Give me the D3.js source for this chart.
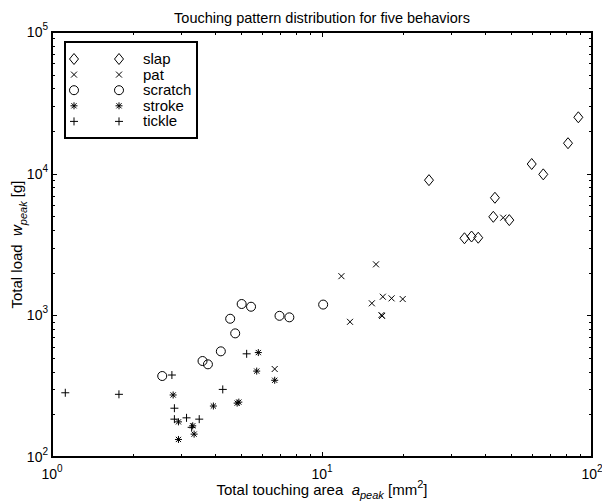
<!DOCTYPE html>
<meta charset="utf-8">
<style>
  body { margin: 0; background: #fff; }
  text { font-family: 'Liberation Sans', Arial, sans-serif; fill: #000; }
  .tick line { stroke: #000; stroke-width: 1; }
  .domain { display: none; }
  .mk { fill: none; stroke: #000; stroke-width: 1; }
</style>
<body>
<script src="https://cdn.jsdelivr.net/npm/d3@7/dist/d3.min.js"></script>
<script>

// values: touching area [mm^2] and total load [g]
var slapArea = [24.9, 33.7, 35.8, 37.9, 43.1, 43.7, 49.4, 59.8, 66.0, 81.5, 89.0];
var slapLoad = [9000, 3500, 3600, 3530, 4960, 6760, 4700, 11700, 9890, 16400, 25000];

var patArea = [6.68, 11.8, 12.7, 15.3, 15.85, 16.6, 16.7, 16.8, 18.1, 19.9, 46.9];
var patLoad = [418, 1890, 900, 1216, 2290, 1005, 990, 1353, 1318, 1303, 4890];

var scratchArea = [2.56, 3.61, 3.78, 4.22, 4.57, 4.77, 5.04, 5.46, 6.96, 7.57, 10.1];
var scratchLoad = [373, 476, 451, 557, 946, 746, 1202, 1150, 992, 968, 1191];

var strokeArea = [2.81, 2.94, 2.94, 3.32, 3.36, 3.96, 4.85, 4.92, 5.73, 5.81, 6.68];
var strokeLoad = [274, 177, 133, 166, 145, 229, 240, 244, 404, 546, 348];

var tickleArea = [1.12, 1.77, 2.78, 2.84, 2.84, 3.15, 3.29, 3.51, 4.29, 5.26];
var tickleLoad = [284, 277, 379, 221, 185, 189, 162, 185, 300, 535];

var seriesNames = ["slap", "pat", "scratch", "stroke", "tickle"];
var seriesMarkers = ["diamond", "x", "circle", "star", "plus"];

var xTicks = [1, 10, 100], xTickExp = ["0", "1", "2"];
var yTicks = [1e2, 1e3, 1e4, 1e5], yTickExp = ["2", "3", "4", "5"];

var margin = {top: 32, right: 10, bottom: 45, left: 52},
    width = 602 - margin.left - margin.right,
    height = 502 - margin.top - margin.bottom;

var x = d3.scaleLog().domain([1, 100]).range([0, width]);
var y = d3.scaleLog().domain([1e2, 1e5]).range([height, 0]);

var svg = d3.select("body").append("svg")
    .attr("width", 602)
    .attr("height", 502)
  .append("g")
    .attr("transform", "translate(" + margin.left + "," + margin.top + ")");

// minor ticks 2..9 in every decade
function minors(dom) {
  var out = [];
  for (var d = dom[0]; d < dom[1]; d *= 10)
    for (var k = 2; k <= 9; k++) out.push(d * k);
  return out;
}
var xMinor = minors(x.domain()), yMinor = minors(y.domain());

function ticks(axis, vals, len) {
  return axis.tickValues(vals).tickSize(-len).tickFormat("");
}

[[5, xTicks, yTicks], [3, xMinor, yMinor]].forEach(function(t) {
  svg.append("g").attr("transform", "translate(0," + height + ")")
      .call(ticks(d3.axisBottom(x), t[1], t[0]));
  svg.append("g").call(ticks(d3.axisTop(x), t[1], t[0]));
  svg.append("g").call(ticks(d3.axisLeft(y), t[2], t[0]));
  svg.append("g").attr("transform", "translate(" + width + ",0)")
      .call(ticks(d3.axisRight(y), t[2], t[0]));
});
svg.selectAll(".tick line").attr("shape-rendering", "crispEdges");

svg.append("rect")
    .attr("width", width).attr("height", height)
    .attr("fill", "none").attr("stroke", "#000").attr("stroke-width", 1.2)
    .attr("shape-rendering", "crispEdges");

// tick labels 10^n
xTicks.forEach(function(v, i) {
  var t = svg.append("text")
      .attr("x", x(v)).attr("y", height + 22)
      .attr("text-anchor", "middle").attr("font-size", "14px");
  t.append("tspan").text("10");
  t.append("tspan").attr("dy", -7).attr("font-size", "10px").text(xTickExp[i]);
});
yTicks.forEach(function(v, i) {
  var t = svg.append("text")
      .attr("x", -4).attr("y", y(v) + 5)
      .attr("text-anchor", "end").attr("font-size", "14px");
  t.append("tspan").text("10");
  t.append("tspan").attr("dy", -7).attr("font-size", "10px").text(yTickExp[i]);
});

// title and axis labels
svg.append("text")
    .attr("x", width / 2).attr("y", -9)
    .attr("text-anchor", "middle").attr("font-size", "14.5px")
    .text("Touching pattern distribution for five behaviors");

var xl = svg.append("text")
    .attr("x", width / 2).attr("y", height + 38)
    .attr("text-anchor", "middle").attr("font-size", "15px");
xl.append("tspan").text("Total touching area \u00a0");
xl.append("tspan").attr("font-style", "italic").text("a");
xl.append("tspan").attr("font-style", "italic").attr("font-size", "11px").attr("dy", 3.5).text("peak");
xl.append("tspan").attr("dy", -3.5).text(" [mm");
xl.append("tspan").attr("font-size", "11px").attr("dy", -7).text("2");
xl.append("tspan").attr("dy", 7).text("]");

var yl = svg.append("text")
    .attr("transform", "translate(-30," + (height / 2) + ") rotate(-90)")
    .attr("text-anchor", "middle").attr("font-size", "15px");
yl.append("tspan").text("Total load \u00a0");
yl.append("tspan").attr("font-style", "italic").text("w");
yl.append("tspan").attr("font-style", "italic").attr("font-size", "11px").attr("dy", 5).text("peak");
yl.append("tspan").attr("dy", -5).text(" [g]");

// marker shapes (MATLAB style)
function markerPath(type) {
  switch (type) {
    case "diamond": return "M0,-5.5L4.5,0L0,5.5L-4.5,0Z";
    case "x": return "M-3,-3L3,3M-3,3L3,-3";
    case "plus": return "M-4,0L4,0M0,-4L0,4";
    case "star": return "M-3.5,0L3.5,0M0,-3.5L0,3.5M-2.6,-2.6L2.6,2.6M-2.6,2.6L2.6,-2.6";
    case "circle": return "M4.5,0A4.5,4.5 0 1,1 -4.5,0A4.5,4.5 0 1,1 4.5,0Z";
  }
}

var series = [
  [slapArea, slapLoad], [patArea, patLoad], [scratchArea, scratchLoad],
  [strokeArea, strokeLoad], [tickleArea, tickleLoad]
];

series.forEach(function(s, i) {
  svg.append("g").selectAll("path")
      .data(d3.zip(s[0], s[1]))
    .enter().append("path")
      .attr("class", "mk")
      .attr("d", markerPath(seriesMarkers[i]))
      .attr("transform", function(d) { return "translate(" + x(d[0]) + "," + y(d[1]) + ")"; });
});

// legend
var lg = svg.append("g").attr("transform", "translate(13,10)");
lg.append("rect")
    .attr("width", 132).attr("height", 96)
    .attr("fill", "#fff").attr("stroke", "#000").attr("stroke-width", 1.2)
    .attr("shape-rendering", "crispEdges");
seriesNames.forEach(function(name, i) {
  var yy = 17 + i * 15.6;
  [9, 54].forEach(function(xx) {
    lg.append("path").attr("class", "mk")
        .attr("d", markerPath(seriesMarkers[i]))
        .attr("transform", "translate(" + xx + "," + yy + ")");
  });
  lg.append("text").attr("x", 78).attr("y", yy + 5)
      .attr("font-size", "15px").text(name);
});

</script>
</body>
